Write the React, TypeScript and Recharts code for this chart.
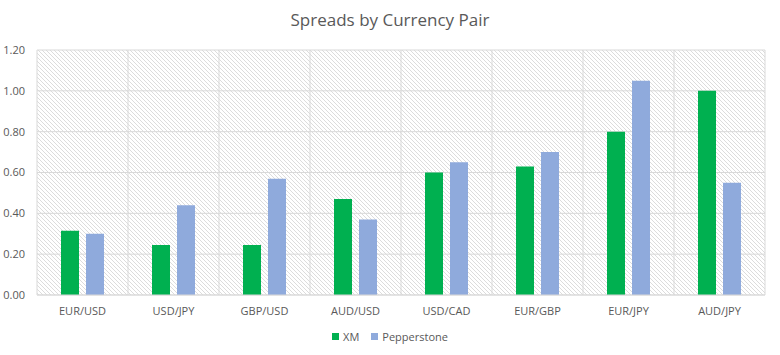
import React from "react";
import { BarChart, Bar, XAxis, YAxis, CartesianGrid } from "recharts";

const categories = ["EUR/USD", "USD/JPY", "GBP/USD", "AUD/USD", "USD/CAD", "EUR/GBP", "EUR/JPY", "AUD/JPY"];
const xmValues = [0.315, 0.245, 0.245, 0.47, 0.6, 0.63, 0.8, 1.0];
const pepperstoneValues = [0.3, 0.44, 0.57, 0.37, 0.65, 0.7, 1.05, 0.55];
const yTicks = [0, 0.2, 0.4, 0.6, 0.8, 1.0, 1.2];
const seriesNames = ["XM", "Pepperstone"];
const seriesColors = ["#00B050", "#8FAADC"];

const data = categories.map((c, i) => ({ name: c, XM: xmValues[i], Pepperstone: pepperstoneValues[i] }));

const FONT = "'Open Sans', sans-serif";
const TEXT = "#595959";

export default function App() {
  return (
    <div style={{ position: "absolute", left: 0, top: 0, width: 780, height: 355, background: "#fff", fontFamily: FONT }}>
      <div style={{ position: "absolute", top: 8, left: 0, width: 780, textAlign: "center", fontSize: 17, color: TEXT }}>
        Spreads by Currency Pair
      </div>
      <BarChart
        width={780}
        height={355}
        data={data}
        margin={{ top: 50, right: 15, bottom: 0, left: 0 }}
        barCategoryGap={24}
        barGap={7}
      >
        <defs>
          <pattern id="hatch" patternUnits="userSpaceOnUse" x="0" y="0" width="4" height="4">
            <rect width="4" height="4" fill="#ffffff" />
            <g fill="#dcdcdc" shapeRendering="crispEdges">
              <rect x="0" y="0" width="1" height="1" />
              <rect x="1" y="1" width="1" height="1" />
              <rect x="2" y="2" width="1" height="1" />
              <rect x="3" y="3" width="1" height="1" />
            </g>
          </pattern>
        </defs>
        <CartesianGrid
          stroke="#d9d9d9"
          fill="url(#hatch)"
          fillOpacity={1}
          verticalCoordinatesGenerator={({ offset }: any) =>
            categories.map((_, i) => offset.left + (i * offset.width) / categories.length).concat([offset.left + offset.width])
          }
        />
        <XAxis
          dataKey="name"
          height={60}
          tickLine={false}
          axisLine={{ stroke: "#d9d9d9" }}
          tick={{ fill: TEXT, fontSize: 11, fontFamily: FONT }}
          tickMargin={6}
        />
        <YAxis
          width={37}
          domain={[0, 1.2]}
          ticks={yTicks}
          tickFormatter={(v: number) => v.toFixed(2)}
          axisLine={false}
          tickLine={false}
          tick={{ fill: TEXT, fontSize: 11, fontFamily: FONT }}
          tickMargin={6}
        />
        <Bar dataKey="XM" fill={seriesColors[0]} isAnimationActive={false} />
        <Bar dataKey="Pepperstone" fill={seriesColors[1]} isAnimationActive={false} />
      </BarChart>
      <div style={{ position: "absolute", top: 329, left: 0, width: 780, display: "flex", justifyContent: "center", fontSize: 11, color: TEXT }}>
        {seriesNames.map((n, i) => (
          <div key={n} style={{ display: "flex", alignItems: "center", marginLeft: i ? 12 : 0 }}>
            <span style={{ display: "inline-block", width: 7, height: 7, background: seriesColors[i], marginRight: 4 }} />
            {n}
          </div>
        ))}
      </div>
    </div>
  );
}
